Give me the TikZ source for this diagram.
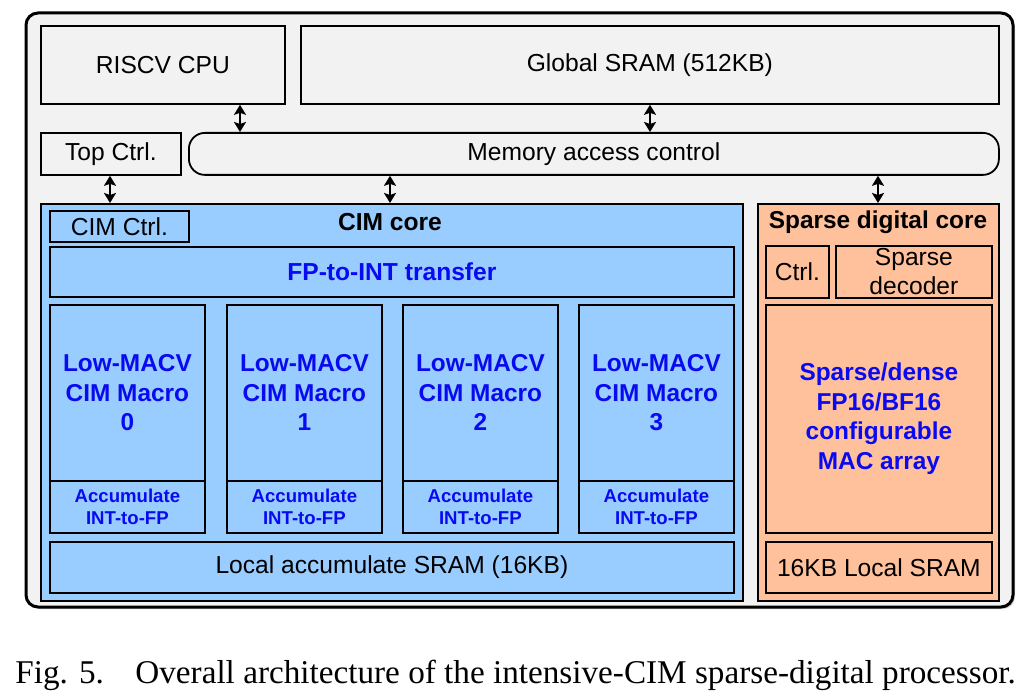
\documentclass[tikz,border=0pt]{standalone}
\usepackage{fontspec}
\setmainfont{Liberation Sans}
\newfontfamily\capfont{Liberation Serif}
\usetikzlibrary{arrows.meta,shadows}
\definecolor{panelgray}{HTML}{F2F2F2}
\definecolor{cimblue}{HTML}{99CCFF}
\definecolor{sdcorange}{HTML}{FFC19B}
\definecolor{txtblue}{HTML}{0A0AF0}
\tikzset{
  blk/.style={draw, line width=0.9pt, inner sep=0pt, align=center, anchor=north west},
  dbl/.style={{Stealth[length=5pt,width=6pt,inset=1pt]}-{Stealth[length=5pt,width=6pt,inset=1pt]}, line width=1.2pt},
  txtA/.style={font=\fontsize{12.3}{14.5}\selectfont},
  txtM/.style={font=\bfseries\fontsize{12.2}{14.75}\selectfont, text=txtblue},
  txtS/.style={font=\bfseries\fontsize{9.3}{11}\selectfont, text=txtblue},
}
\begin{document}
\begin{tikzpicture}[x=0.5pt, y=-0.5pt]
  \useasboundingbox (0,0) rectangle (1029,700);
  % outer panel
  \draw[line width=1.5pt, fill=panelgray, rounded corners=6pt,
        drop shadow={shadow xshift=1pt, shadow yshift=-1pt, fill=gray!70}] (26,13) rectangle (1013,607);
  % top row
  \node[blk, txtA, fill=panelgray, minimum width=122pt, minimum height=39pt] (cpu) at (40,25) {RISCV CPU};
  \node[blk, txtA, fill=panelgray, minimum width=349pt, minimum height=39pt] (gsram) at (300,25) {Global SRAM (512KB)};
  \node[blk, txtA, fill=panelgray, minimum width=70pt, minimum height=21pt] (top) at (40,132) {Top Ctrl.};
  \node[blk, txtA, fill=panelgray, rounded corners=8pt, minimum width=405pt, minimum height=21pt] (mem) at (188,132) {Memory access control};
  % CIM core
  \node[blk, fill=cimblue, minimum width=351pt, minimum height=198.5pt] (cim) at (40,203) {};
  \node[font=\bfseries\fontsize{12.3}{15}\selectfont] (cimt) at (390,222) {CIM core};
  \node[blk, txtA, fill=cimblue, minimum width=69.5pt, minimum height=15.5pt] (cimctrl) at (49,210) {CIM Ctrl.};
  \node[blk, font=\bfseries\fontsize{12.3}{14.5}\selectfont, text=txtblue, fill=cimblue, minimum width=342pt, minimum height=25pt] (f2i) at (49,246) {FP-to-INT transfer};
  \foreach \i/\x in {0/49, 1/226, 2/402, 3/578} {
    \node[blk, txtM, fill=cimblue, minimum width=77.5pt, minimum height=88pt] (macro\i) at (\x,304) {Low-MACV\\CIM Macro\\\i};
    \node[blk, txtS, fill=cimblue, minimum width=77.5pt, minimum height=26pt] (acc\i) at (\x,480) {Accumulate\\INT-to-FP};
  }
  \node[blk, txtA, fill=cimblue, minimum width=342pt, minimum height=25.5pt] (lsram) at (49,541) {Local accumulate SRAM (16KB)};
  % sparse digital core
  \node[blk, fill=sdcorange, minimum width=120.5pt, minimum height=198.5pt] (sdc) at (757,203) {};
  \node[font=\bfseries\fontsize{12.2}{15}\selectfont] (sdct) at (878,222) {Sparse digital core};
  \node[blk, txtA, fill=sdcorange, minimum width=31.5pt, minimum height=26pt] (sctrl) at (765,245) {Ctrl.};
  \node[blk, txtA, fill=sdcorange, minimum width=78pt, minimum height=26pt] (sdec) at (835,245) {Sparse\\decoder};
  \node[blk, txtM, fill=sdcorange, minimum width=113pt, minimum height=114pt] (mac) at (765,304) {Sparse/dense\\FP16/BF16\\configurable\\MAC array};
  \node[blk, txtA, fill=sdcorange, minimum width=113pt, minimum height=25.5pt] (ssram) at (765,541) {16KB Local SRAM};
  % arrows
  \coordinate (xa) at (240,0);
  \coordinate (xb) at (650,0);
  \coordinate (xc) at (110,0);
  \coordinate (xd) at (390,0);
  \coordinate (xe) at (878,0);
  \draw[dbl] (xa |- cpu.south) -- (xa |- mem.north);
  \draw[dbl] (xb |- gsram.south) -- (xb |- mem.north);
  \draw[dbl] (xc |- top.south) -- (xc |- cim.north);
  \draw[dbl] (xd |- mem.south) -- (xd |- cim.north);
  \draw[dbl] (xe |- mem.south) -- (xe |- sdc.north);
  % caption
  \node[anchor=base west, inner sep=0pt, font=\capfont\fontsize{16.6}{20}\selectfont] (fig) at (15,683) {Fig. 5.};
  \node[anchor=base west, inner sep=0pt, font=\capfont\fontsize{16.6}{20}\selectfont] (cap) at (135,683) {Overall architecture of the intensive-CIM sparse-digital processor.};
\end{tikzpicture}
\end{document}
